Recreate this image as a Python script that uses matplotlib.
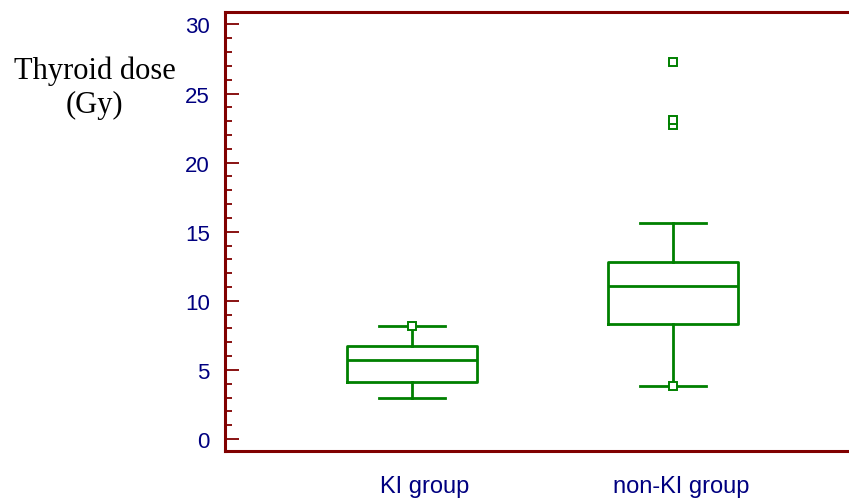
import matplotlib.pyplot as plt
from matplotlib.ticker import MultipleLocator

# Box statistics (Gy)
groups = ['KI group', 'non-KI group']
q1 = [4.09, 8.30]
medians = [5.68, 11.08]
q3 = [6.70, 12.78]
whisker_low = [2.93, 3.82]
whisker_high = [8.15, 15.6]
outliers = [[8.15], [3.82, 22.7, 23.1, 27.3]]

axis_red = '#800000'
label_blue = '#000080'
box_green = '#008000'

fig = plt.figure(figsize=(8.49, 5.02), dpi=100)
ax = fig.add_axes([0.265, 0.0996, 0.735, 0.8745])

stats = []
for i, name in enumerate(groups):
    stats.append(dict(label=name, med=medians[i], q1=q1[i], q3=q3[i],
                      whislo=whisker_low[i], whishi=whisker_high[i],
                      fliers=outliers[i]))

line_kw = dict(color=box_green, linewidth=2.0)
ax.bxp(stats, positions=[1, 2], widths=0.5, capwidths=0.25,
       boxprops=line_kw, medianprops=line_kw, whiskerprops=line_kw,
       capprops=line_kw,
       flierprops=dict(marker='s', markersize=6, markerfacecolor='white',
                       markeredgecolor=box_green, markeredgewidth=1.4,
                       linestyle='none'))

ax.set_xlim(0.2835, 2.674)
ax.set_ylim(-0.87, 30.9)

# axes styling
for side in ['left', 'top', 'bottom']:
    ax.spines[side].set_color(axis_red)
    ax.spines[side].set_linewidth(2.2)
ax.spines['right'].set_visible(False)

ax.yaxis.set_major_locator(MultipleLocator(5))
ax.yaxis.set_minor_locator(MultipleLocator(1))
ax.tick_params(axis='y', which='major', direction='in', length=10, width=1.3,
               color=axis_red, labelcolor=label_blue, labelsize=16, pad=11)
ax.tick_params(axis='y', which='minor', direction='in', length=5, width=1.3,
               color=axis_red)
for lab in ax.get_yticklabels():
    lab.set_fontfamily('Liberation Sans')

ax.set_xticks([])
label_x = [1.05, 2.03]
for x, name in zip(label_x, groups):
    ax.text(x, -0.0934, name, transform=ax.get_xaxis_transform(), ha='center',
            va='baseline', fontsize=17, color=label_blue, family='Liberation Sans')

# y-axis title, two centred lines at the top left
fig.text(0.1113, 0.8426, 'Thyroid dose', ha='center', va='baseline',
         fontsize=22, family='Liberation Serif')
fig.text(0.1113, 0.7749, '(Gy)', ha='center', va='baseline',
         fontsize=22, family='Liberation Serif')

fig.savefig('out.png', dpi=100, facecolor='white')
